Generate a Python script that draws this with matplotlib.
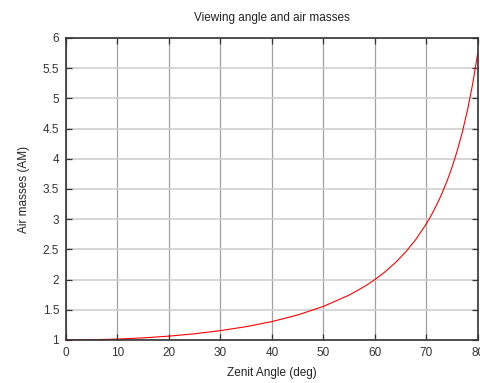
import matplotlib.pyplot as plt

# values
zenith = [0, 5, 10, 15, 20, 25, 30, 35, 40, 45, 50, 55, 58, 60, 62, 64, 66, 68, 70,
          71, 72, 73, 74, 75, 76, 77, 78, 79, 80]
airmass = [1.0, 1.004, 1.015, 1.035, 1.064, 1.103, 1.155, 1.221, 1.305, 1.414, 1.556,
           1.743, 1.887, 2.0, 2.13, 2.281, 2.459, 2.669, 2.924, 3.072, 3.236, 3.42,
           3.628, 3.864, 4.134, 4.445, 4.81, 5.241, 5.759]

plt.rcParams['font.family'] = ['Liberation Sans', 'DejaVu Sans']

fig = plt.figure(figsize=(4.8, 3.83), dpi=100)
ax = fig.add_axes([0.1375, 0.1123, 0.858, 0.7885])

ax.plot(zenith, airmass, color='red', lw=0.8)

ax.set_xlim(0, 80)
ax.set_ylim(1, 6)
ax.set_xticks(range(0, 81, 10))
ax.set_yticks([1, 1.5, 2, 2.5, 3, 3.5, 4, 4.5, 5, 5.5, 6])
ax.set_yticklabels(['1', '1.5', '2', '2.5', '3', '3.5', '4', '4.5', '5', '5.5', '6'])
ax.xaxis.grid(True, color='#a0a0a0', lw=0.9)
ax.yaxis.grid(True, color='#d0d0d0', lw=1.2)
ax.tick_params(direction='in', top=True, right=True, length=4, width=0.9,
               labelsize=8.5, colors='#333333', pad=5)
for s in ax.spines.values():
    s.set_linewidth(1.2)
    s.set_color('#333333')

ax.set_title('Viewing angle and air masses', fontsize=8.5, pad=12, color='#222222')
ax.set_xlabel('Zenit Angle (deg)', fontsize=8.5, labelpad=6, color='#222222')
ax.set_ylabel('Air masses (AM)', fontsize=8.5, labelpad=9, color='#222222')

fig.savefig('out.png', dpi=100)
